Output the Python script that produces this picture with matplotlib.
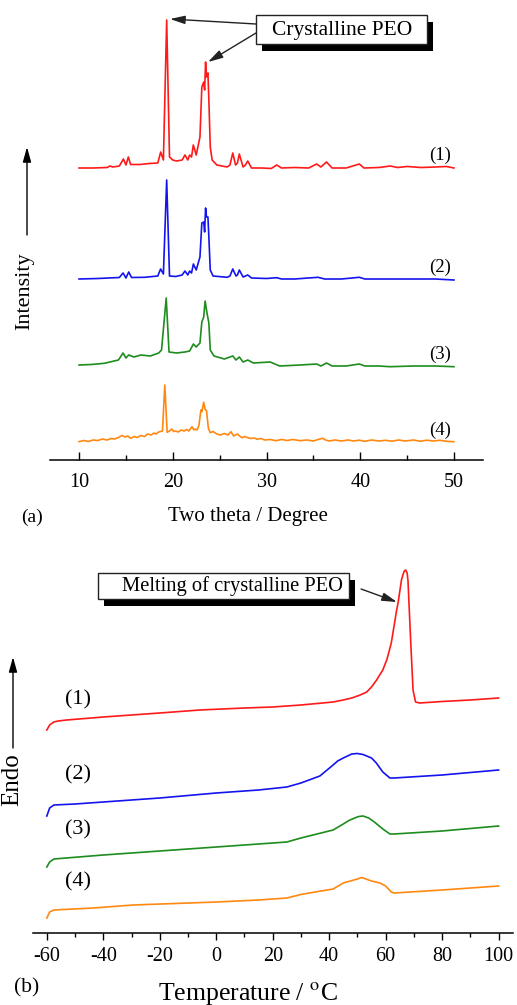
import matplotlib
matplotlib.use('Agg')
import matplotlib.pyplot as plt
from matplotlib.patches import Rectangle, FancyArrowPatch
from matplotlib.ticker import MultipleLocator

plt.rcParams['font.family'] = ['Liberation Serif', 'DejaVu Serif']
plt.rcParams['mathtext.fontset'] = 'stix'
plt.rcParams['axes.unicode_minus'] = False

# (a) XRD patterns, stacked, intensity in a.u.
red_tt = [10, 11.5, 13.0, 13.3, 13.6, 14.3, 14.73, 15.0, 15.26, 15.5, 16.5, 17.5, 18.4, 18.71, 19.0,
          19.35, 19.65, 20.0, 20.4, 21.0, 21.3, 21.6, 21.8, 22.0, 22.19, 22.5, 22.9, 23.1, 23.3, 23.4,
          23.5, 23.6, 23.75, 23.85, 24.0, 24.2, 24.7, 25.8, 26.1, 26.4, 26.7, 26.9, 27.1, 27.5, 27.75,
          28.0, 28.4, 29.5, 30.5, 31.1, 31.6, 33.0, 34.5, 35.35, 35.8, 36.4, 37.0, 38.5, 39.9, 40.4,
          42.0, 43.2, 44.0, 45.0, 46.5, 48.0, 49.2, 50.0]
red_i = [292, 292, 292.5, 294, 293, 294, 301, 295, 303, 295.5, 295.5, 296.5, 297, 308, 300,
         440, 303, 300, 299, 300, 305, 300, 305, 303, 315, 305, 323, 373, 378, 370,
         398, 383, 387, 360, 313, 300, 295, 293, 295, 307, 295, 297, 306, 293, 295,
         299, 292, 292, 291.5, 295, 292, 292.5, 292, 296, 293, 298, 292, 292, 296, 292,
         292.5, 294, 292.5, 293.5, 292.5, 293, 293.5, 292]

blue_tt = [10, 12, 14.3, 14.7, 15.0, 15.3, 15.6, 17.0, 18.4, 18.7, 19.0, 19.35, 19.65, 20.3, 21.0,
           21.3, 21.6, 21.8, 22.0, 22.2, 22.5, 22.9, 23.1, 23.3, 23.4, 23.5, 23.6, 23.75, 23.85, 24.0,
           24.3, 25.8, 26.1, 26.4, 26.75, 26.9, 27.1, 27.5, 27.75, 28.0, 28.4, 30.0, 31.1, 31.6, 33.0,
           35.5, 36.2, 38.0, 39.9, 40.5, 43.2, 45.7, 48.0, 50.0]
blue_i = [181, 181.5, 182.5, 187, 182, 188, 182.5, 182.7, 184, 191, 186, 280, 184, 183.5, 185,
          189, 185, 189, 187, 196, 190, 203, 237, 238, 228, 252, 243, 243, 223, 190,
          184, 182.7, 184, 191, 184, 185, 190, 183, 184, 185, 182, 181.5, 182.3, 181, 181,
          182.7, 181, 181, 182.7, 181, 181, 181, 181, 180]

green_tt = [10, 11.3, 12.7, 14.2, 14.7, 15.0, 15.3, 15.85, 16.6, 17.6, 18.5, 18.8, 19.3, 19.6, 20.4,
            21.3, 21.8, 22.2, 22.5, 22.9, 23.1, 23.3, 23.45, 23.65, 23.85, 24.0, 24.4, 25.5, 26.4, 26.75,
            27.1, 27.5, 28.0, 28.6, 30.4, 31.4, 33.6, 35.35, 35.8, 36.4, 37.0, 38.5, 39.9, 40.5, 42.0,
            43.2, 45.7, 48.0, 50.0]
green_i = [95, 95.5, 96.7, 100, 107, 102, 105, 103, 105, 104, 107, 110, 162, 108, 107,
           108, 109, 116, 113, 117, 138, 143, 159, 147, 137, 110, 104, 101, 104, 100,
           103, 98, 100, 97, 98, 94, 95, 96, 94, 97, 94, 94, 96, 94, 94,
           93.3, 94, 94, 93.3]

orange_tt = [10, 10.5, 11, 11.5, 12, 12.5, 13, 13.4, 13.8, 14.2,
             14.6, 14.9, 15.2, 15.5, 15.9, 16.2, 16.6, 17.0, 17.3, 17.7,
             18.0, 18.2, 18.5, 18.9, 19.15, 19.4, 19.65, 19.9, 20.1, 20.3,
             20.6, 20.9, 21.2, 21.5, 21.7, 22.05, 22.25, 22.4, 22.6, 22.8,
             23.0, 23.1, 23.3, 23.45, 23.6, 23.8, 24.0, 24.3, 24.7, 25.1,
             25.5, 25.9, 26.2, 26.5, 26.9, 27.2, 27.4, 27.7, 27.9, 28.3,
             28.7, 29.0, 29.4, 29.8, 30.4, 31.0, 31.6, 32.2, 32.8, 33.6,
             34.3, 35.0, 35.5, 36.0, 36.3, 36.7, 37.3, 38.0, 38.7, 39.3,
             39.9, 40.5, 41.2, 42.0, 42.7, 43.4, 44.1, 44.8, 45.7, 46.4,
             47.1, 47.8, 48.5, 49.2, 50.0]
orange_i = [18.3, 19.5, 18.5, 20, 19.5, 21, 20, 21.5, 21, 22.5,
            24.5, 23, 24, 21.7, 23.5, 22.5, 24.5, 23.5, 26, 25,
            27, 26, 28, 29, 75, 27.7, 29, 31, 28.5, 29,
            28, 30, 29, 30.5, 29, 33.3, 30, 31, 30, 35,
            50, 48.3, 57.7, 50.7, 49.3, 31.7, 27.3, 28.5, 26, 25,
            26.5, 25, 28.3, 24, 26, 23.5, 22.3, 23.5, 22.7, 21.5,
            22, 20.7, 21.5, 20, 20.5, 19.3, 20.5, 19.5, 20.5, 19.3,
            20, 19, 20.5, 21.7, 20, 19, 20, 19, 20, 19,
            19.8, 18.7, 20, 19, 19.7, 18.8, 20, 19, 20, 18.7,
            19.8, 19, 19.7, 18.7, 18.3]

# (b) DSC curves, stacked, heat flow in a.u.
red_T = [-60, -59, -57.5, -56, -53, -40, -20, -5.8, 10, 20, 30, 41.4, 45, 48, 51, 53.3, 55, 56.8,
         59, 60.5, 62, 63.9, 64.4, 65.6, 66.1, 66.6, 67.1, 67.6, 67.9, 68.9, 69.7, 70.6, 72, 80, 90, 100]
red_dsc = [203, 208, 211, 212, 213, 216, 220, 223, 225, 226, 228, 231, 233, 235, 238, 241, 246, 253,
           263, 274, 290, 323, 330, 353, 358, 362, 363, 360, 353, 290, 243, 231, 230, 231.5, 233, 235]

blue_T = [-60, -59, -57.5, -50, -40, -20, 0, 15, 25, 30, 36.7, 41.4, 43, 45, 48, 50, 52, 55, 56.7,
          59, 61.5, 63, 80, 100]
blue_dsc = [117, 125, 128, 129, 131, 135, 140, 143, 146, 150, 157, 168, 172, 175, 179, 179.5, 178.5,
            175, 170, 161, 155, 155, 158, 163]

green_T = [-60, -59, -57.5, -40, -20, 0, 15, 25, 30, 41.4, 45, 47, 49, 50.5, 52, 54, 56, 59, 61.5,
           63, 80, 100]
green_dsc = [66, 71, 74, 78, 82, 86, 89, 91, 95, 103, 109, 112.5, 115, 116.5, 117, 115, 111, 104, 99,
             99, 102, 107]

orange_T = [-60, -59, -57.5, -43.6, -29.5, 0, 15, 25, 30, 35, 41.4, 45, 50, 51.5, 53, 55, 58, 60,
            62, 63, 80, 100]
orange_dsc = [15, 21, 23, 25, 28, 31, 33, 35, 38.5, 41, 44, 50, 54, 55.5, 54, 52, 50, 47,
              41, 40, 43, 47]

labels = ['(1)', '(2)', '(3)', '(4)']
colors = ['#ff1a1a', '#1414ee', '#1e8c1e', '#ff8811']

W, H = 517, 1005
fig = plt.figure(figsize=(W / 100, H / 100), dpi=100)


def fx(x):
    return x / W


def fy(y):
    return 1 - y / H


def shadow_box(x0, y0, x1, y1, off=6):
    fig.add_artist(Rectangle((fx(x0 + off), fy(y1 + off + 1)), (x1 - x0) / W, (y1 - y0) / H,
                             transform=fig.transFigure, facecolor='black', edgecolor='black', lw=0))
    fig.add_artist(Rectangle((fx(x0), fy(y1)), (x1 - x0) / W, (y1 - y0) / H,
                             transform=fig.transFigure, facecolor='white', edgecolor='#222222', lw=1))


def up_arrow(x, y0, y1):
    fig.add_artist(FancyArrowPatch((fx(x), fy(y0)), (fx(x), fy(y1)), transform=fig.transFigure,
                                   arrowstyle='-|>,head_length=0.9,head_width=0.25', color='black',
                                   lw=1, mutation_scale=10, shrinkA=0, shrinkB=0))


arrow_kw = dict(arrowstyle='-|>,head_length=0.9,head_width=0.25', color='#222222', lw=1,
                mutation_scale=10, shrinkA=0, shrinkB=0)

# ---- top: XRD ----
ax1 = fig.add_axes([fx(50), fy(460), 433 / W, 450 / H])
for tt, ii, c in zip([red_tt, blue_tt, green_tt, orange_tt], [red_i, blue_i, green_i, orange_i], colors):
    ax1.plot(tt, ii, color=c, lw=1.2)
for lab, yy in zip(labels, [305, 193, 106, 30]):
    ax1.text(48.5, yy, lab, ha='center', va='center', fontsize=13.5)
ax1.set_xlim(6.9, 53.1)
ax1.set_ylim(0, 450)
ax1.set_xticks([10, 20, 30, 40, 50])
ax1.xaxis.set_minor_locator(MultipleLocator(5))
ax1.tick_params(axis='x', which='major', direction='in', length=6, width=1, labelsize=14.5, pad=9)
ax1.tick_params(axis='x', which='minor', direction='in', length=3.5, width=1)
ax1.set_yticks([])
for s in ['left', 'right', 'top']:
    ax1.spines[s].set_visible(False)
ax1.spines['bottom'].set_linewidth(1.1)

ax1.annotate('', xy=(19.7, 441), xytext=(28.88, 436), arrowprops=arrow_kw)
ax1.annotate('', xy=(23.76, 398), xytext=(28.88, 427), arrowprops=arrow_kw)
shadow_box(256, 15, 427, 44)
fig.text(fx(342), fy(30), 'Crystalline PEO', ha='center', va='center', fontsize=15.5)

fig.text(fx(25), fy(291), 'Intensity', rotation=90, ha='center', va='center', fontsize=16)
up_arrow(27, 235, 147)
fig.text(fx(32), fy(517), '(a)', ha='center', va='center', fontsize=14)
fig.text(fx(248), fy(517), 'Two theta / Degree', ha='center', va='center', fontsize=15)

# ---- bottom: DSC ----
ax2 = fig.add_axes([fx(32.7), fy(933), 480 / W, 373 / H])
for tt, ii, c in zip([red_T, blue_T, green_T, orange_T], [red_dsc, blue_dsc, green_dsc, orange_dsc], colors):
    ax2.plot(tt, ii, color=c, lw=1.2)
for lab, yy in zip(labels, [233, 158, 103, 51]):
    ax2.text(-49, yy, lab, ha='center', va='center', fontsize=16)
ax2.set_xlim(-65, 105)
ax2.set_ylim(0, 373)
ax2.set_xticks(range(-60, 101, 20))
ax2.xaxis.set_minor_locator(MultipleLocator(10))
ax2.tick_params(axis='x', which='major', direction='out', length=5, width=1, labelsize=14.5, pad=5)
ax2.tick_params(axis='x', which='minor', direction='out', length=3, width=1)
ax2.set_yticks([])
for s in ['left', 'right', 'top']:
    ax2.spines[s].set_visible(False)
ax2.spines['bottom'].set_linewidth(1.1)

ax2.annotate('', xy=(64.0, 331), xytext=(51.3, 344), arrowprops=arrow_kw)
shadow_box(98, 573, 349, 599)
fig.text(fx(122), fy(586), 'Melting of crystalline PEO', ha='left', va='center', fontsize=14.8)

fig.text(fx(12), fy(780), 'Endo', rotation=90, ha='center', va='center', fontsize=18)
up_arrow(13, 748, 657)
fig.text(fx(27), fy(988), '(b)', ha='center', va='center', fontsize=15.5)
fig.text(fx(248), fy(993), 'Temperature / $^{\\mathrm{o}}$C', ha='center', va='center', fontsize=18.5)

fig.savefig('out.png', dpi=100)
